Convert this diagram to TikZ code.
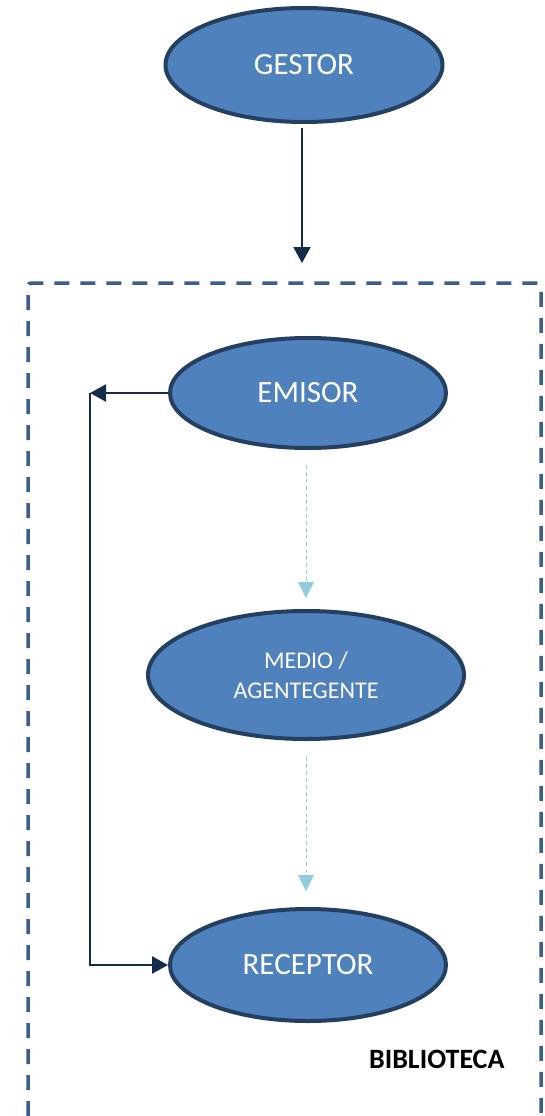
\documentclass[tikz,border=0pt]{standalone}
\usepackage{fontspec}
\setmainfont{Carlito}
\usetikzlibrary{arrows.meta,shapes.geometric}
\definecolor{nodefill}{HTML}{4F81BD}
\definecolor{nodeline}{HTML}{243F60}
\definecolor{arrowdark}{HTML}{142B4A}
\definecolor{frameblue}{HTML}{3A5F8E}
\definecolor{flowblue}{HTML}{93CDDD}
\tikzset{
  actor/.style={ellipse, draw=nodeline, fill=nodefill, line width=4pt,
    text=white, inner sep=0pt, font=\fontsize{31}{36}\selectfont},
  solidlink/.style={draw=arrowdark, line width=2.2pt,
    -{Triangle[width=17pt,length=16pt]}},
  flowlink/.style={draw=flowblue, line width=0.9pt, dash pattern=on 4pt off 3pt,
    -{Triangle[width=16pt,length=16pt]}},
  frame/.style={draw=frameblue, line width=3.5pt, dash pattern=on 15pt off 11pt,
    rounded corners=3pt},
}
\begin{document}
\begin{tikzpicture}[x=1pt,y=-1pt]
  \useasboundingbox (0,0) rectangle (544,1116);
  \fill[white] (0,0) rectangle (544,1116);

  % library frame, open at the bottom
  \draw[frame] (28,1116) -- (28,283) -- (541,283) -- (541,1116);
  \node[anchor=base east, font=\bfseries\fontsize{28}{32}\selectfont]
    (lib) at (508,1068) {BIBLIOTECA};

  % actors
  \node[actor, minimum width=277pt, minimum height=114pt] (gestor) at (304,65) {GESTOR};
  \node[actor, minimum width=276pt, minimum height=110pt] (emisor) at (308,393) {EMISOR};
  \node[actor, minimum width=316pt, minimum height=128pt, align=center,
        font=\fontsize{24}{30}\selectfont] (medio) at (306,675) {MEDIO /\\AGENTEGENTE};
  \node[actor, minimum width=276pt, minimum height=112pt] (receptor) at (308,965) {RECEPTOR};

  % connectors
  \coordinate (gin) at (302,263);
  \coordinate (turn) at (90,393);
  \coordinate (gout) at (302,128);
  \draw[solidlink] (gout) -- (gin);
  \draw[solidlink] (emisor.west) -- (turn);
  \draw[solidlink] (turn) |- (receptor.west);

  \coordinate (f1) at (306,465);
  \coordinate (f1end) at (306,598);
  \coordinate (f2) at (306,757);
  \coordinate (f2end) at (306,891);
  \draw[flowlink] (f1) -- (f1end);
  \draw[flowlink] (f2) -- (f2end);
\end{tikzpicture}
\end{document}
